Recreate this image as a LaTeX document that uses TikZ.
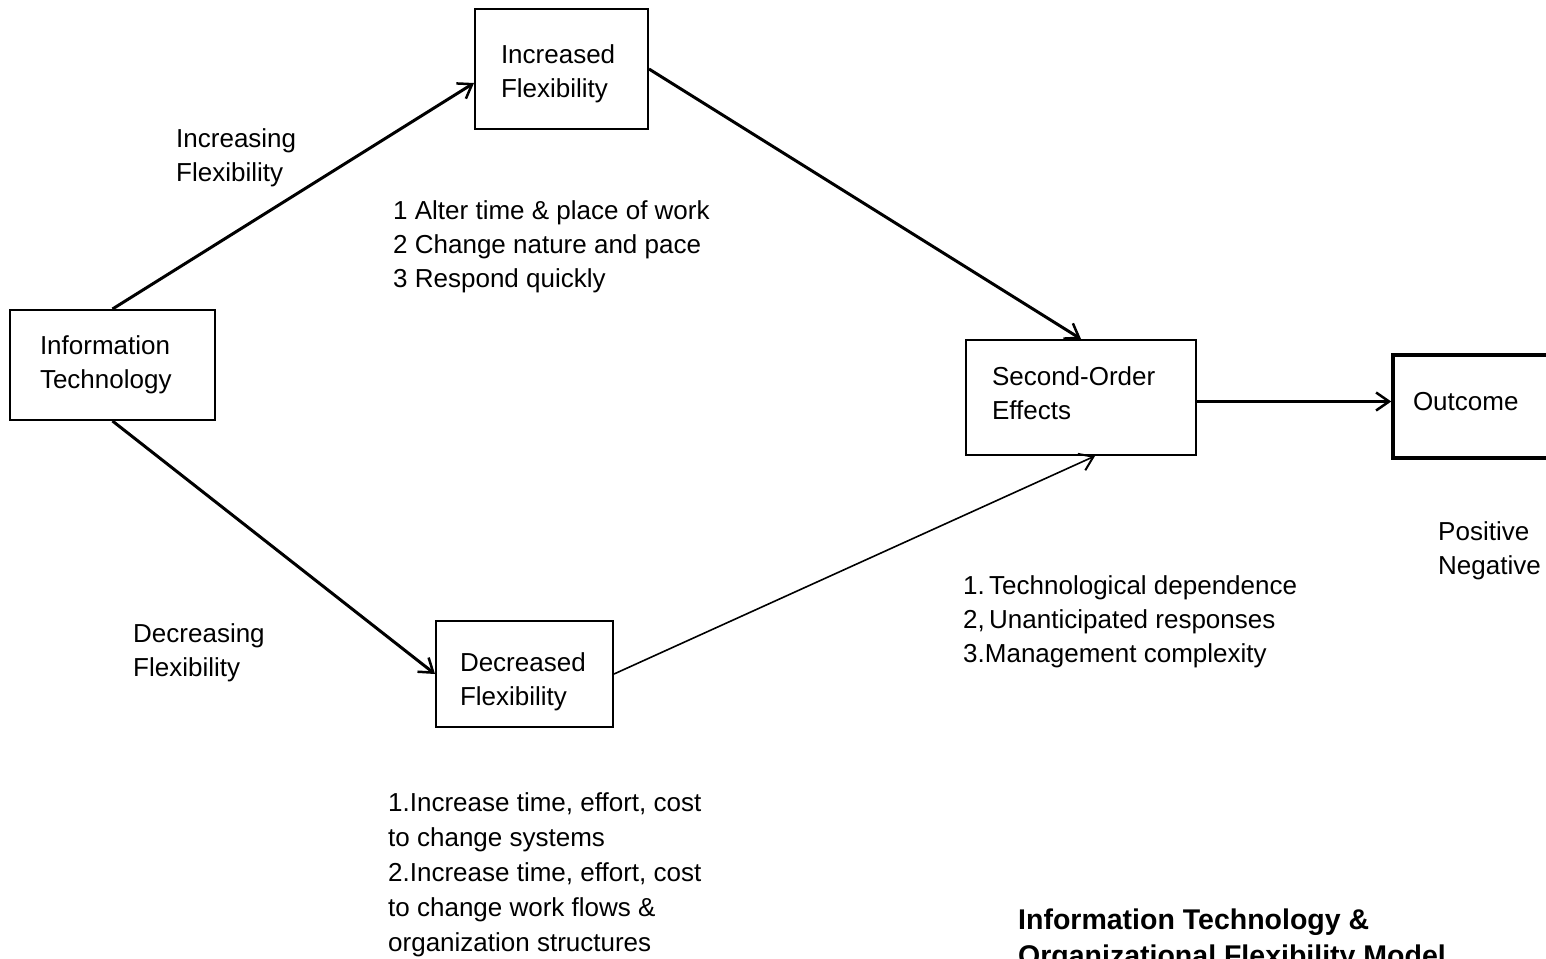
\documentclass[tikz,border=0pt]{standalone}
\usepackage{fontspec}
\setmainfont{Liberation Sans}
\usetikzlibrary{arrows.meta}
\frenchspacing

\tikzset{
    box/.style={draw, line width=2pt, align=left, inner ysep=0pt},
    link/.style={line width=3pt, -{Straight Barb[length=13pt,width=18pt,line width=2.5pt]}},
    thinlink/.style={line width=1.6pt, -{Straight Barb[length=13pt,width=18pt,line width=2pt]}},
    note/.style={anchor=north west, inner sep=0pt, align=left}
}

\begin{document}
\begin{tikzpicture}[x=1pt, y=-1pt, font=\fontsize{26}{34}\selectfont]
        \useasboundingbox (0,0) rectangle (1546,958);
        \clip (0,0) rectangle (1546,958);

        % Boxes
        \node[box, text width=145pt, inner xsep=30pt, minimum height=110pt] (IT) at (112.5,365) {Information\\Technology};
        \node[box, text width=121pt, inner xsep=26pt, minimum height=120pt] (Inc) at (561.5,69) {\rule{0pt}{29pt}Increased\\Flexibility};
        \node[box, text width=129pt, inner xsep=24pt, minimum height=106pt] (Dec) at (524.5,674) {\rule{0pt}{35pt}Decreased\\Flexibility};
        \node[box, text width=178pt, inner xsep=26pt, minimum height=115pt] (Sec) at (1081,397.5) {Second-Order\\Effects\rule[-9pt]{0pt}{9pt}};
        \node[box, line width=3.5pt, text width=130pt, inner xsep=20pt, minimum height=103pt] (Out) at (1478,406.5) {Outcome\rule[-10pt]{0pt}{10pt}};

        % Coordinates
        \coordinate (IncIn) at ([yshift=-14pt]Inc.west);
        \coordinate (SecIn) at ([xshift=14pt]Sec.south);
        \coordinate (SecOut) at ([yshift=-4pt]Sec.east);

        % Drawing
        \draw[link] (IT.north) -- (IncIn);
        \draw[link] (IT.south) -- (Dec.west);
        \draw[link] (Inc.east) -- (Sec.north);
        \draw[thinlink] (Dec.east) -- (SecIn);
        \draw[link] (SecOut) -- (SecOut -| Out.west);

        % Labels
        \node[note] (incl) at (176,128) {Increasing\\Flexibility};
        \node[note] (decl) at (133,623) {Decreasing\\Flexibility};
        \node[note] (incitems) at (393,200) {1 Alter time \& place of work\\2 Change nature and pace\\3 Respond quickly};
        \node[note] (secitems) at (963,575) {1.\,Technological dependence\\2,\,Unanticipated responses\\3.Management complexity};
        \node[note] (outitems) at (1438,521) {Positive\\Negative};
        \node[note, font=\fontsize{26}{35}\selectfont] (decitems) at (388,792) {1.Increase time, effort, cost\\to change systems\\2.Increase time, effort, cost\\to change work flows \&\\organization structures};
        \node[note, font=\fontsize{28.5}{36}\selectfont\bfseries] (title) at (1018,909) {Information Technology \&\\Organizational Flexibility Model};
    \end{tikzpicture}
\end{document}
